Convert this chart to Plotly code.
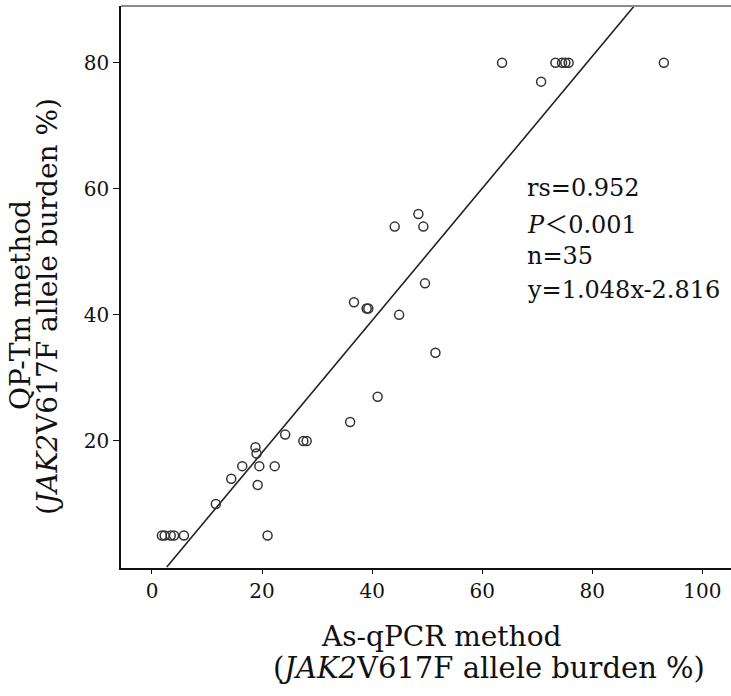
import plotly.graph_objects as go

# Data
as_qpcr = [1.8, 2.3, 3.4, 4.0, 5.8, 21.0, 11.6, 14.4, 16.4, 19.5, 22.3, 19.2, 18.8, 19.0,
           24.2, 27.5, 28.1, 36.0, 41.0, 51.5, 36.7, 39.0, 39.3, 44.9, 49.6, 44.1, 49.3,
           48.4, 70.7, 63.6, 73.3, 74.5, 75.1, 75.7, 93.0]
qp_tm = [5, 5, 5, 5, 5, 5, 10, 14, 16, 16, 16, 13, 19, 18,
         21, 20, 20, 23, 27, 34, 42, 41, 41, 40, 45, 54, 54,
         56, 77, 80, 80, 80, 80, 80, 80]
slope = 1.048
intercept = -2.816
x_ticks = [0, 20, 40, 60, 80, 100]
y_ticks = [20, 40, 60, 80]
stats_lines = ["rs=0.952",
               "<i>P</i><span style='font-family:Noto Sans CJK JP'>＜</span>0.001",
               "n=35", "y=1.048x-2.816"]

X_RANGE = [-5.63, 105.2]
Y_RANGE = [-0.16, 89.0]
FONT = "DejaVu Serif"

fig = go.Figure()

# regression line across the plotting area
y0, y1 = 0.0, Y_RANGE[1]
fig.add_trace(go.Scatter(
    x=[(y0 - intercept) / slope, (y1 - intercept) / slope],
    y=[y0, y1], mode="lines",
    line=dict(color="#222222", width=1.6),
    hoverinfo="skip", showlegend=False))

fig.add_trace(go.Scatter(
    x=as_qpcr, y=qp_tm, mode="markers",
    marker=dict(symbol="circle-open", size=9, color="#333333",
                line=dict(width=1.5, color="#333333")),
    showlegend=False))

W, H = 731, 696
L, R, T, B = 121, 0, 6, 128
pw, ph = W - L - R, H - T - B

def px(xp):
    return (xp - L) / pw

def py(yp):
    return (H - B - yp) / ph

fig.update_layout(
    width=W, height=H,
    margin=dict(l=L, r=R, t=T, b=B),
    plot_bgcolor="white", paper_bgcolor="white",
    font=dict(family=FONT, color="#111111"),
    xaxis=dict(range=X_RANGE, tickvals=x_ticks, showgrid=False, zeroline=False,
               automargin=False,
               showline=True, linecolor="#111111", linewidth=1.5,
               ticks="outside", ticklen=4, tickcolor="#111111", tickwidth=1.3,
               tickfont=dict(family=FONT, size=20, color="#111111")),
    yaxis=dict(range=Y_RANGE, tickvals=y_ticks, showgrid=False, zeroline=False,
               automargin=False,
               showline=True, linecolor="#111111", linewidth=1.5,
               ticks="outside", ticklen=6, tickcolor="#111111", tickwidth=1.3,
               tickfont=dict(family=FONT, size=20, color="#111111")),
    shapes=[dict(type="line", xref="paper", yref="paper", x0=0, x1=1, y0=1, y1=1,
                 line=dict(color="#8a8a8a", width=2.2))],
)

# statistics text
for i, s in enumerate(stats_lines):
    fig.add_annotation(x=px(525), y=py(188 + 34 * i), xref="paper", yref="paper",
                       text=s, showarrow=False, xanchor="left", yanchor="middle",
                       font=dict(family=FONT, size=24, color="#111111"))

# axis titles
fig.add_annotation(x=px(441), y=py(636), xref="paper", yref="paper",
                   text="As-qPCR method", showarrow=False, xanchor="center", yanchor="middle",
                   font=dict(family=FONT, size=28, color="#111111"))
fig.add_annotation(x=px(489), y=py(668), xref="paper", yref="paper",
                   text="(<i>JAK2</i>V617F allele burden %)", showarrow=False,
                   xanchor="center", yanchor="middle",
                   font=dict(family=FONT, size=29, color="#111111"))
fig.add_annotation(x=px(20), y=py(305), xref="paper", yref="paper",
                   text="QP-Tm method", showarrow=False, textangle=-90,
                   xanchor="center", yanchor="middle",
                   font=dict(family=FONT, size=28, color="#111111"))
fig.add_annotation(x=px(47), y=py(307), xref="paper", yref="paper",
                   text="(<i>JAK2</i>V617F allele burden %)", showarrow=False, textangle=-90,
                   xanchor="center", yanchor="middle",
                   font=dict(family=FONT, size=28, color="#111111"))

fig.write_html("out.html", config={"displayModeBar": False},
               post_script="document.body.style.margin='0px';")
